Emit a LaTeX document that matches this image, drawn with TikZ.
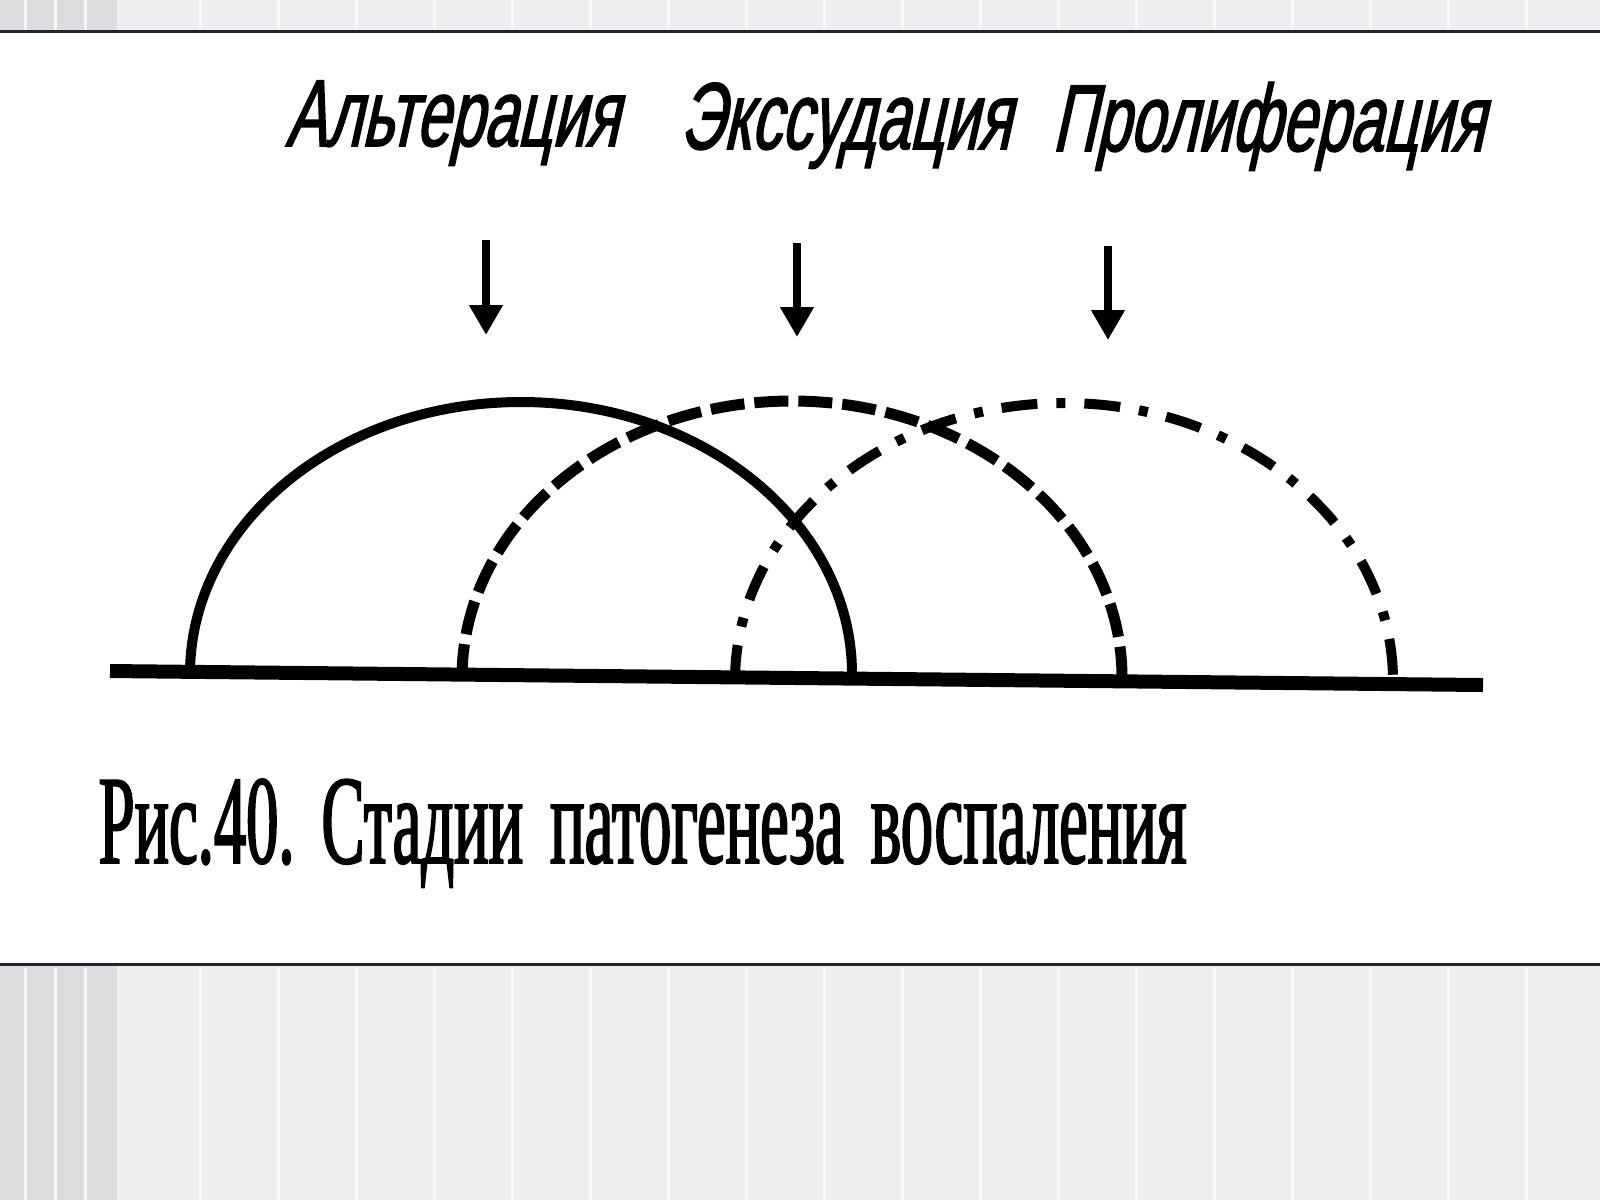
\documentclass[tikz,border=0pt]{standalone}
\usepackage{fontspec}
\usetikzlibrary{arrows.meta}
\newfontfamily\stagefont[FakeStretch=0.64, FakeSlant=0.22, FakeBold=1.6]{Liberation Sans}
\newfontfamily\capfont[FakeStretch=0.51, FakeBold=1.4]{Liberation Serif}
\definecolor{bandgray}{HTML}{EEEEF0}
\definecolor{edgegray}{HTML}{DCDCDE}
\definecolor{rulecol}{HTML}{1E2430}

\tikzset{
    stage/.style={anchor=base, inner sep=0pt, font=\stagefont\fontsize{27}{31}\selectfont},
    inflow/.style={line width=0.08cm, -{Triangle[length=3mm,width=3.2mm]}},
    ground/.style={line width=0.14cm},
    altline/.style={line width=0.10cm},
    exline/.style={line width=0.11cm, dash pattern=on 0.34cm off 0.10cm},
    proline/.style={line width=0.10cm, dash pattern=on 0.36cm off 0.19cm on 0.09cm off 0.19cm}
}

\begin{document}
\begin{tikzpicture}
        \useasboundingbox (0,0) rectangle (16,-12);
        % slide frame
        \fill[white] (0,0) rectangle (16,-12);
        \fill[bandgray] (0,0) rectangle (16,-0.30);
        \fill[bandgray] (0,-9.65) rectangle (16,-12);
        \fill[edgegray] (0,0) rectangle (1.17,-0.30);
        \fill[edgegray] (0,-9.65) rectangle (1.17,-12);
        \foreach \x in {0.25,0.55,0.85,2.0,2.78,...,15.7}
        {
            \draw[white!55!bandgray, line width=0.03cm] (\x,0) -- (\x,-0.30);
            \draw[white!55!bandgray, line width=0.03cm] (\x,-9.68) -- (\x,-12);
        }
        \draw[rulecol, line width=0.03cm] (0,-0.31) -- (16,-0.31);
        \draw[rulecol, line width=0.03cm] (0,-9.64) -- (16,-9.64);

        % stages
        \node[stage] (alt) at (4.52,-1.46) {Альтерация};
        \node[stage] (exs) at (8.45,-1.49) {Экссудация};
        \node[stage] (pro) at (12.68,-1.51) {Пролиферация};

        \coordinate (alt top) at (4.86,-2.40);
        \coordinate (alt tip) at (4.86,-3.35);
        \coordinate (exs top) at (7.97,-2.43);
        \coordinate (exs tip) at (7.97,-3.37);
        \coordinate (pro top) at (11.08,-2.46);
        \coordinate (pro tip) at (11.08,-3.40);
        \draw[inflow] (alt top) -- (alt tip);
        \draw[inflow] (exs top) -- (exs tip);
        \draw[inflow] (pro top) -- (pro tip);

        % time axis and the three waves
        \coordinate (ground west) at (1.10,-6.71);
        \coordinate (ground east) at (14.83,-6.85);
        \draw[ground] (ground west) -- (ground east);
        \draw[altline] (1.90,-6.74) arc[start angle=180, end angle=0, x radius=3.31, y radius=2.72];
        \draw[exline] (4.62,-6.78) arc[start angle=180, end angle=0, x radius=3.30, y radius=2.77];
        \draw[proline] (7.35,-6.81) arc[start angle=180, end angle=0, x radius=3.29, y radius=2.78];

        \node[anchor=base west, inner sep=0pt, font=\capfont\fontsize{36}{42}\selectfont] (caption) at (0.98,-8.63) {Рис.40.\hspace{0.27cm}Стадии\hspace{0.27cm}патогенеза\hspace{0.27cm}воспаления};
\end{tikzpicture}
\end{document}
